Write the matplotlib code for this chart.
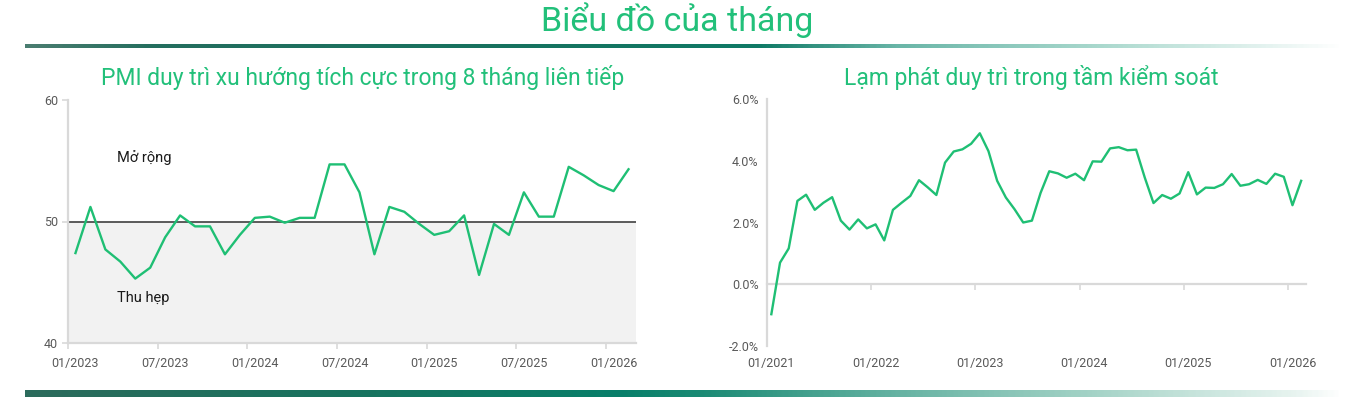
import numpy as np
import matplotlib
matplotlib.use("Agg")
import matplotlib.pyplot as plt
from matplotlib.colors import LinearSegmentedColormap, to_rgb

# --- data -------------------------------------------------------------
pmi_values = [47.4, 51.2, 47.7, 46.7, 45.3, 46.2, 48.7, 50.5, 49.6, 49.6, 47.3, 48.9,
              50.3, 50.4, 49.9, 50.3, 50.3, 54.7, 54.7, 52.4, 47.3, 51.2, 50.8, 49.8,
              48.9, 49.2, 50.5, 45.6, 49.8, 48.9, 52.4, 50.4, 50.4, 54.5, 53.8, 53.0,
              52.5, 54.3]
pmi_tick_labels = ["01/2023", "07/2023", "01/2024", "07/2024", "01/2025", "07/2025", "01/2026"]
pmi_threshold = 50

cpi_values = [-0.97, 0.70, 1.16, 2.70, 2.90, 2.41, 2.64, 2.82, 2.06, 1.77, 2.10, 1.81,
              1.94, 1.42, 2.41, 2.64, 2.86, 3.37, 3.14, 2.89, 3.94, 4.30, 4.37, 4.55,
              4.89, 4.31, 3.35, 2.81, 2.43, 2.00, 2.06, 2.96, 3.66, 3.59, 3.45, 3.58,
              3.37, 3.98, 3.97, 4.40, 4.44, 4.34, 4.36, 3.45, 2.63, 2.89, 2.77, 2.94,
              3.63, 2.91, 3.13, 3.12, 3.24, 3.57, 3.19, 3.24, 3.38, 3.25, 3.58, 3.48,
              2.56, 3.35]
cpi_tick_labels = ["01/2021", "01/2022", "01/2023", "01/2024", "01/2025", "01/2026"]

title = "Biểu đồ của tháng"
pmi_title = "PMI duy trì xu hướng tích cực trong 8 tháng liên tiếp"
cpi_title = "Lạm phát duy trì trong tầm kiểm soát"

# --- style ------------------------------------------------------------
GREEN = "#1fbf74"
TITLE_GREEN = "#22c07a"
AXIS_GRAY = "#d9d9d9"
TICK_TEXT = "#595959"
TITLE_FONT = ["Roboto", "DejaVu Sans"]
TICK_FONT = ["Roboto", "DejaVu Sans"]
TEXT_FONT = ["Roboto", "DejaVu Sans"]

W, H = 1354, 405
fig = plt.figure(figsize=(W / 100, H / 100), dpi=100)

# decoration layer in pixel coordinates
deco = fig.add_axes([0, 0, 1, 1], zorder=-5)
deco.set_xlim(0, W)
deco.set_ylim(H, 0)
deco.axis("off")


def gradient_bar(ax, x0, x1, y0, y1, stops):
    cmap = LinearSegmentedColormap.from_list(
        "g", [((s - x0) / (x1 - x0), to_rgb(c)) for s, c in stops])
    grad = np.linspace(0, 1, 600).reshape(1, -1)
    ax.imshow(grad, cmap=cmap, aspect="auto", extent=[x0, x1, y1, y0],
              interpolation="bilinear")


gradient_bar(deco, 25, 1345, 44, 48,
             [(25, "#4a7d70"), (150, "#246e5e"), (500, "#17725f"), (760, "#0f7a66"),
              (900, "#6ab6a8"), (1100, "#a9d8cd"), (1345, "#ffffff")])
gradient_bar(deco, 25, 1345, 390, 397,
             [(25, "#2c6b5c"), (350, "#18735f"), (620, "#087f6a"), (700, "#1a8a74"),
              (900, "#66b3a3"), (1100, "#a6d4c8"), (1300, "#e8f4f0"), (1345, "#ffffff")])

fig.text(677 / W, 1 - 20 / H, title, ha="center", va="center", fontsize=24.5,
         color=TITLE_GREEN, family=TITLE_FONT)

# --- left chart: PMI ----------------------------------------------------
ax1 = fig.add_axes([68 / W, 1 - 343 / H, (636 - 68) / W, (343 - 100) / H])
x1 = np.arange(len(pmi_values))
ax1.axhspan(40, pmi_threshold, color="#f2f2f2", zorder=0)
ax1.axhline(pmi_threshold, color="#404040", lw=1.2, zorder=1)
ax1.plot(x1, pmi_values, color=GREEN, lw=1.7, zorder=3)
ax1.set_xlim(-0.5, len(pmi_values) - 0.5)
ax1.set_ylim(40, 60)
ax1.set_yticks([40, 50, 60])
ax1.set_xticks(np.arange(0, len(pmi_values), 6)[:len(pmi_tick_labels)], pmi_tick_labels)
ax1.set_xticks(np.arange(-0.5, len(pmi_values) - 0.5, 6), minor=True)
for s in ["top", "right"]:
    ax1.spines[s].set_visible(False)
for s in ["left", "bottom"]:
    ax1.spines[s].set_color(AXIS_GRAY)
    ax1.spines[s].set_linewidth(1.6)
ax1.tick_params(axis="y", length=4, width=1.2, color=AXIS_GRAY, labelcolor=TICK_TEXT,
                labelsize=9, pad=3)
ax1.tick_params(axis="x", which="major", length=0, labelcolor=TICK_TEXT,
                labelsize=9, pad=10)
ax1.tick_params(axis="x", which="minor", length=4, width=1.2, color=AXIS_GRAY)
for lab in ax1.get_xticklabels() + ax1.get_yticklabels():
    lab.set_family(TICK_FONT)
ax1.text(2.8, 55.3, "Mở rộng", ha="left", va="center", fontsize=10.5,
         family=TEXT_FONT, color="#1a1a1a")
ax1.text(2.8, 43.7, "Thu hẹp", ha="left", va="center", fontsize=10.5,
         family=TEXT_FONT, color="#1a1a1a")
fig.text(363 / W, 1 - 78 / H, pmi_title, ha="center", va="center", fontsize=16.5,
         color=TITLE_GREEN, family=TITLE_FONT)

# --- right chart: CPI ---------------------------------------------------
ax2 = fig.add_axes([767 / W, 1 - 346 / H, (1305.5 - 767) / W, (346 - 99) / H])
x2 = np.arange(len(cpi_values))
ax2.plot(x2, cpi_values, color=GREEN, lw=1.7, zorder=3)
ax2.set_xlim(-0.5, len(cpi_values) - 0.5)
ax2.set_ylim(-2, 6)
ax2.set_yticks([-2, 0, 2, 4, 6])
ax2.set_yticklabels([f"{v:.1f}%" for v in [-2, 0, 2, 4, 6]])
ax2.set_xticks(np.arange(0, len(cpi_values), 12)[:len(cpi_tick_labels)], cpi_tick_labels)
for s in ["top", "right", "bottom"]:
    ax2.spines[s].set_visible(False)
ax2.spines["left"].set_color(AXIS_GRAY)
ax2.spines["left"].set_linewidth(1.6)
ax2.tick_params(axis="y", length=0, labelcolor=TICK_TEXT, labelsize=9, pad=6)
ax2.tick_params(axis="x", length=0, labelcolor=TICK_TEXT, labelsize=9, pad=8)
for lab in ax2.get_xticklabels() + ax2.get_yticklabels():
    lab.set_family(TICK_FONT)

# zero line with its own tick marks at year boundaries
zero = ax2.secondary_xaxis(2 / 8)
zero.spines["bottom"].set_color(AXIS_GRAY)
zero.spines["bottom"].set_linewidth(1.6)
zero.set_xticks(np.arange(11.5, len(cpi_values) - 0.5, 12), [""] * 5)
zero.tick_params(axis="x", length=4, width=1.2, color=AXIS_GRAY)

fig.text(1031 / W, 1 - 78 / H, cpi_title, ha="center", va="center", fontsize=16.5,
         color=TITLE_GREEN, family=TITLE_FONT)

fig.savefig("out.png", dpi=100, facecolor="white")
